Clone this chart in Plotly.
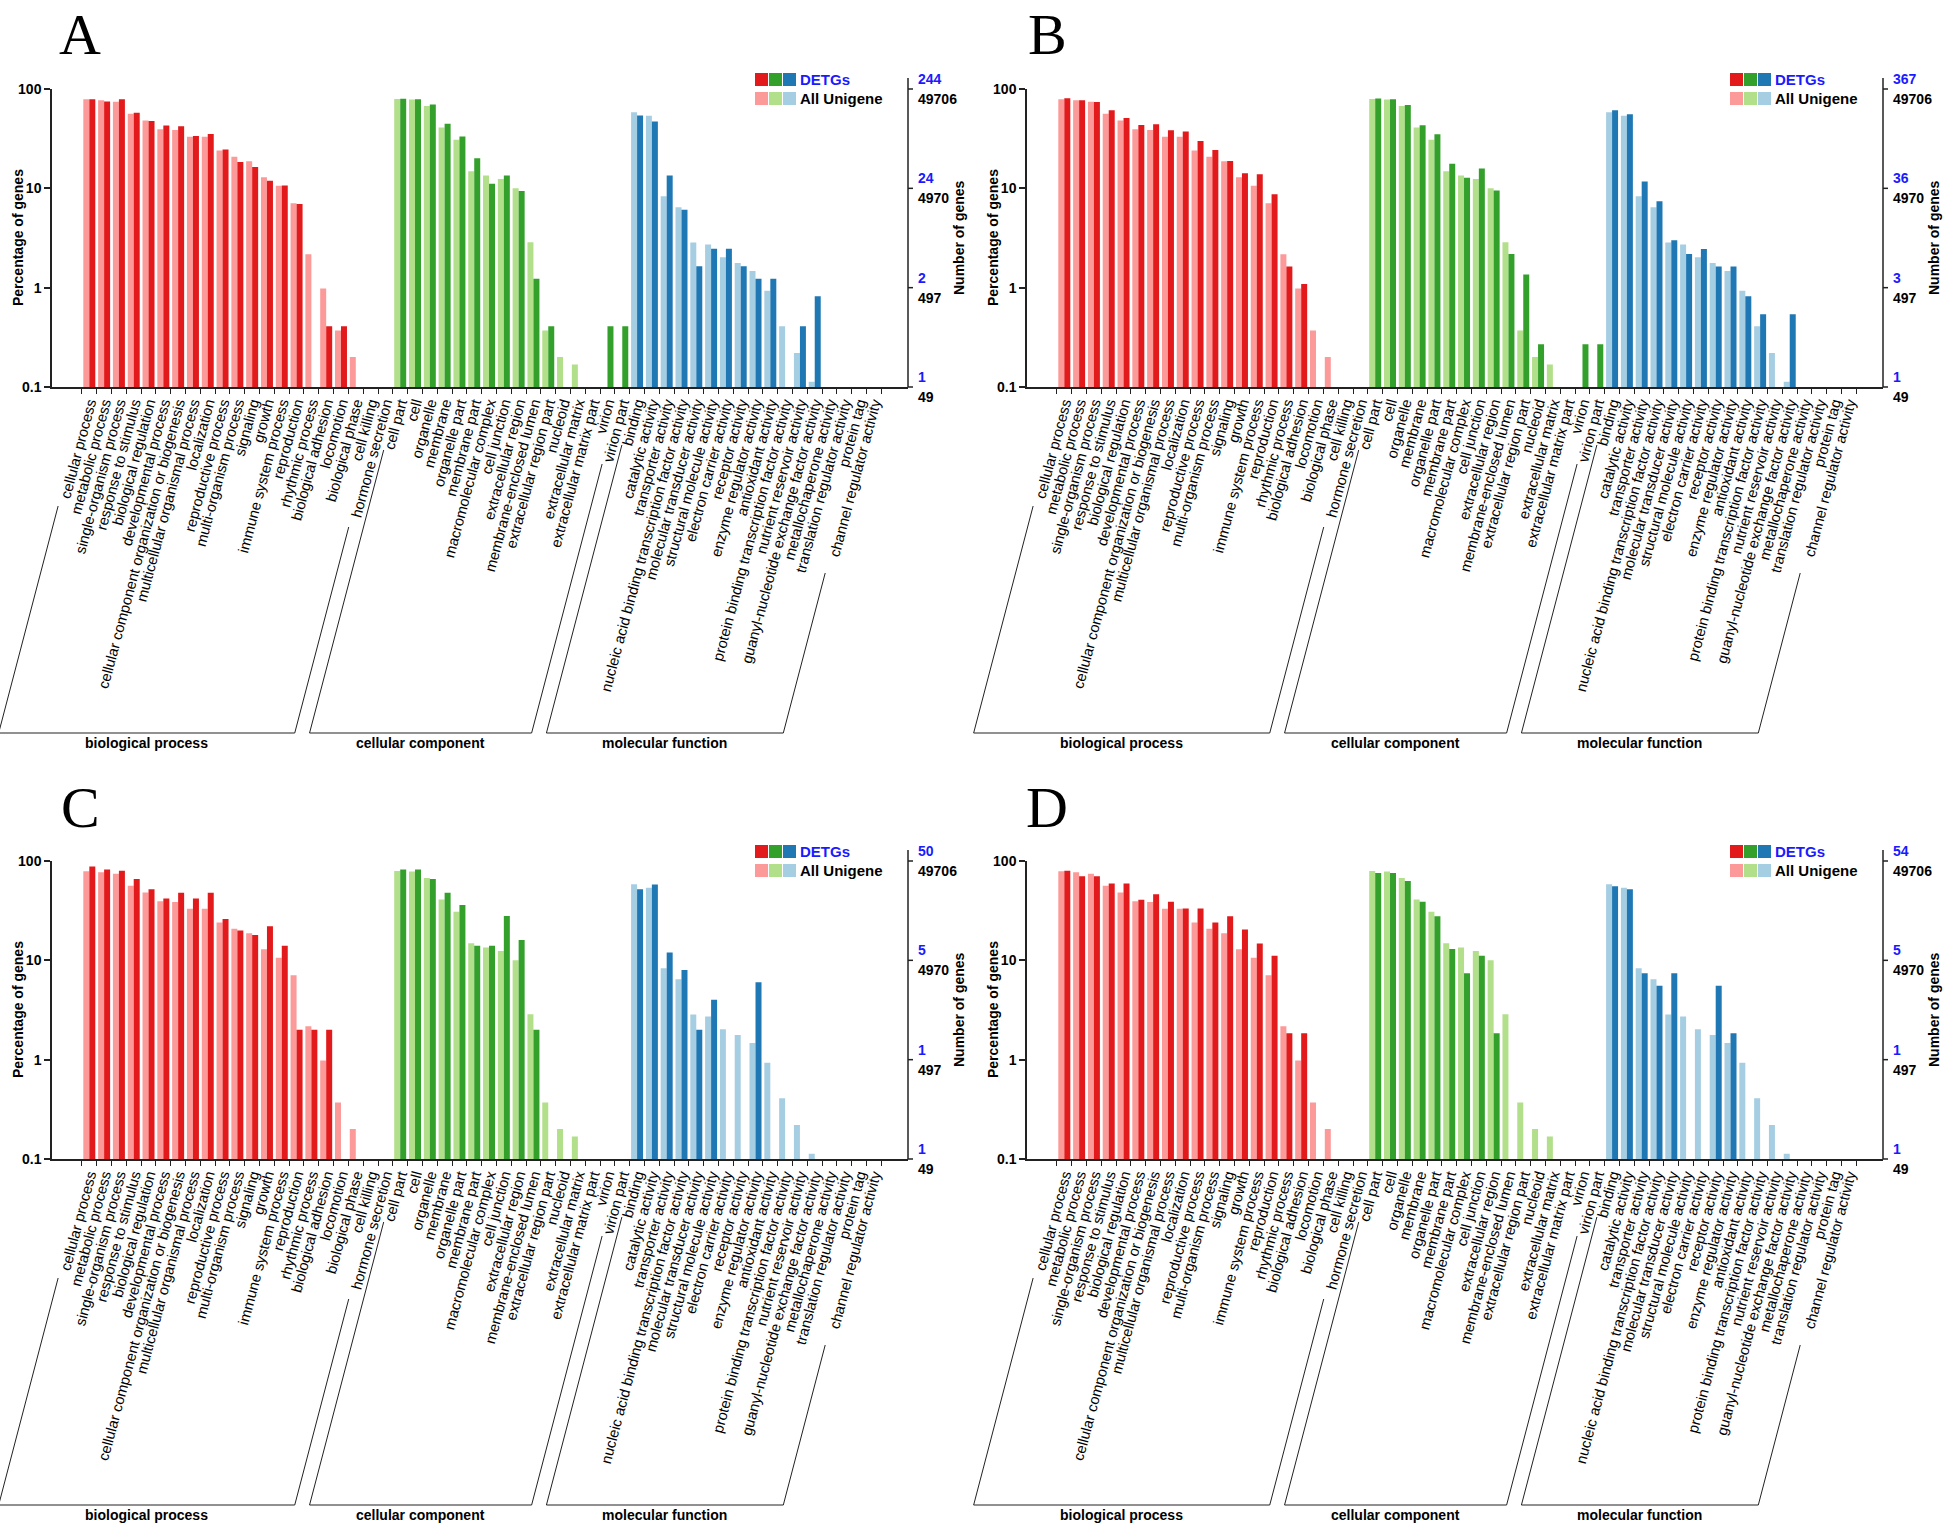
import math
import plotly.graph_objects as go

W, H = 1946, 1526

# ---------------- data ----------------
BP = ["cellular process", "metabolic process", "single-organism process", "response to stimulus",
      "biological regulation", "developmental process", "cellular component organization or biogenesis",
      "multicellular organismal process", "localization", "reproductive process", "multi-organism process",
      "signaling", "growth", "immune system process", "reproduction", "rhythmic process",
      "biological adhesion", "locomotion", "biological phase", "cell killing", "hormone secretion"]
CC = ["cell part", "cell", "organelle", "membrane", "organelle part", "membrane part",
      "macromolecular complex", "cell junction", "extracellular region", "membrane-enclosed lumen",
      "extracellular region part", "nucleoid", "extracellular matrix", "extracellular matrix part",
      "virion", "virion part"]
MF = ["binding", "catalytic activity", "transporter activity",
      "nucleic acid binding transcription factor activity", "molecular transducer activity",
      "structural molecule activity", "electron carrier activity", "receptor activity",
      "enzyme regulator activity", "antioxidant activity", "protein binding transcription factor activity",
      "nutrient reservoir activity", "guanyl-nucleotide exchange factor activity",
      "metallochaperone activity", "translation regulator activity", "protein tag",
      "channel regulator activity"]
GROUP_NAMES = ["biological process", "cellular component", "molecular function"]

# All Unigene (percentage of genes)
ALL_BP = [78.7, 77.2, 74.5, 56.2, 48.2, 39.4, 38.6, 33.0, 33.0, 24.0, 20.8, 18.7, 12.9, 10.6, 7.07,
          2.17, 0.98, 0.37, 0.20, None, None]
ALL_CC = [79.3, 78.2, 67.5, 41.0, 30.8, 14.9, 13.5, 12.4, 10.0, 2.87, 0.37, 0.20, 0.168, None, None, None]
ALL_MF = [58.3, 53.8, 8.3, 6.45, 2.85, 2.72, 2.02, 1.77, 1.47, 0.93, 0.41, 0.22, 0.113,
          None, None, None, None]

# DETGs (percentage of genes), panels A-D
A_BP = [78.7, 75.0, 78.7, 57.8, 47.5, 43.0, 42.2, 33.6, 35.2, 24.6, 18.4, 16.4, 11.9, 10.7, 6.97,
        None, 0.41, 0.41, None, None, None]
A_CC = [80.0, 78.7, 70.0, 44.7, 33.2, 20.1, 11.1, 13.5, 9.4, 1.23, 0.41, None, None, None, 0.41, 0.41]
A_MF = [54.1, 47.1, 13.5, 6.1, 1.64, 2.46, 2.46, 1.64, 1.23, 1.23, None, 0.41, 0.82,
        None, None, None, None]

B_BP = [80.5, 77.1, 74.1, 61.0, 51.2, 43.3, 44.1, 38.4, 37.3, 30.0, 24.3, 18.8, 14.2, 13.9, 8.7,
        1.63, 1.09, None, None, None, None]
B_CC = [80.4, 79.0, 69.2, 43.1, 35.1, 17.7, 12.8, 15.8, 9.5, 2.18, 1.36, 0.27, None, None, 0.27, 0.27]
B_MF = [61.0, 55.6, 11.7, 7.4, 3.0, 2.18, 2.45, 1.63, 1.63, 0.82, 0.54, None, 0.54,
        None, None, None, None]

C_BP = [88, 82, 80, 66, 52, 42, 48, 42, 48, 26, 20, 18, 22, 14, 2, 2, 2, None, None, None, None]
C_CC = [82, 82, 66, 48, 36, 14, 14, 28, 16, 2, None, None, None, None, None, None]
C_MF = [52, 58, 12, 8, 2, 4, None, None, 6, None, None, None, None, None, None, None, None]

D_BP = [79.6, 70.4, 70.4, 59.3, 59.3, 40.7, 46.3, 38.9, 33.3, 33.3, 24.1, 27.8, 20.4, 14.8, 11.1,
        1.85, 1.85, None, None, None, None]
D_CC = [75.9, 75.9, 63.0, 38.9, 27.8, 13.0, 7.4, 11.1, 1.85, None, None, None, None, None, None, None]
D_MF = [55.6, 51.9, 7.4, 5.56, 7.4, None, None, 5.56, 1.85, None, None, None, None,
        None, None, None, None]

PANELS = ["A", "B", "C", "D"]
DETG = {"A": (A_BP, A_CC, A_MF), "B": (B_BP, B_CC, B_MF),
        "C": (C_BP, C_CC, C_MF), "D": (D_BP, D_CC, D_MF)}
RIGHT_BLUE = {"A": ["244", "24", "2", "1"], "B": ["367", "36", "3", "1"],
              "C": ["50", "5", "1", "1"], "D": ["54", "5", "1", "1"]}
RIGHT_BLACK = ["49706", "4970", "497", "49"]
LEFT_TICKS = [100, 10, 1, 0.1]
LEFT_TICKTEXT = ["100", "10", "1", "0.1"]

# ---------------- style ----------------
DARK = ["#E31A1C", "#33A02C", "#1F78B4"]
LIGHT = ["#FB9A99", "#B2DF8A", "#A6CEE3"]
AXC = "#222222"
BLUE = "#1a1aff"
FONT = "Liberation Sans, Arial, Helvetica, sans-serif"
SERIF = "Liberation Serif, Times New Roman, serif"

PLOT_L, PLOT_R = 52, 908
PLOT_T, PLOT_B = 89, 387
XMIN, XMAX = -2.52, 55.3
OFFS = {"A": (0, 0), "B": (975, 0), "C": (0, 772), "D": (975, 772)}
TICKANGLE = -75
SLOPE = 0.262   # horizontal shift per vertical pixel of the bracket sides
BR_BOTTOM = 346  # bracket bottom below x axis


def px(x):
    return x / W


def py(y):
    return 1 - y / H


def cat_px(i, dx):
    return PLOT_L + dx + (i - XMIN) / (XMAX - XMIN) * (PLOT_R - PLOT_L)


def val_py(v, dy):
    f = (math.log10(v) + 1) / 3
    return PLOT_B + dy - f * (PLOT_B - PLOT_T)


CATS = BP + CC + MF
IDX = list(range(len(CATS)))
GROUP_OF = [0] * len(BP) + [1] * len(CC) + [2] * len(MF)
GROUP_RANGES = [(0, len(BP) - 1), (len(BP), len(BP) + len(CC) - 1),
                (len(BP) + len(CC), len(CATS) - 1)]
BR_TOPS = [(119, 140), (63, 77), (58, 186)]

ALL_VALS = ALL_BP + ALL_CC + ALL_MF

fig = go.Figure()
shapes = []
annotations = []

for k, p in enumerate(PANELS):
    dx, dy = OFFS[p]
    sfx = "" if k == 0 else str(k + 1)
    xa, ya = "x" + sfx, "y" + sfx
    det_vals = DETG[p][0] + DETG[p][1] + DETG[p][2]

    fig.add_trace(go.Bar(x=IDX, y=ALL_VALS, marker_color=[LIGHT[g] for g in GROUP_OF],
                         marker_line_width=0, xaxis=xa, yaxis=ya, offsetgroup="all",
                         showlegend=False, name="All Unigene"))
    fig.add_trace(go.Bar(x=IDX, y=det_vals, marker_color=[DARK[g] for g in GROUP_OF],
                         marker_line_width=0, xaxis=xa, yaxis=ya, offsetgroup="detg",
                         showlegend=False, name="DETGs"))

    fig.layout["xaxis" + sfx] = dict(
        domain=[px(PLOT_L + dx), px(PLOT_R + dx)], range=[XMIN, XMAX], anchor=ya,
        tickmode="array", tickvals=IDX, ticktext=CATS, tickangle=TICKANGLE,
        tickfont=dict(family=FONT, size=14.7, color="black"),
        showline=True, linecolor=AXC, linewidth=1.5, ticks="", showgrid=False, zeroline=False,
        minor=dict(tickmode="array", tickvals=[i - 0.5 for i in range(len(CATS) + 1)],
                   ticks="outside", ticklen=5, tickcolor=AXC, tickwidth=1, showgrid=False),
        fixedrange=True)
    fig.layout["yaxis" + sfx] = dict(
        domain=[py(PLOT_B + dy), py(PLOT_T + dy)], type="log", range=[-1, 2], anchor=xa,
        tickmode="array", tickvals=LEFT_TICKS, ticktext=LEFT_TICKTEXT,
        tickfont=dict(family=FONT, size=14, color="black", weight="bold"),
        ticks="outside", ticklen=6, tickwidth=1.5, tickcolor=AXC,
        showline=True, linecolor=AXC, linewidth=1.5, showgrid=False, zeroline=False,
        fixedrange=True)

    annotations.append(dict(x=px(18 + dx), y=py((PLOT_T + PLOT_B) / 2 + dy), xref="paper", yref="paper",
                            text="<b>Percentage of genes</b>", textangle=-90, showarrow=False,
                            font=dict(family=FONT, size=14, color="black"),
                            xanchor="center", yanchor="middle"))
    rx = PLOT_R + dx
    shapes.append(dict(type="line", xref="paper", yref="paper", x0=px(rx), x1=px(rx),
                       y0=py(PLOT_T - 11 + dy), y1=py(PLOT_B + dy), line=dict(color=AXC, width=1.5)))
    for j, v in enumerate(LEFT_TICKS):
        ty = val_py(v, dy)
        shapes.append(dict(type="line", xref="paper", yref="paper", x0=px(rx), x1=px(rx + 5),
                           y0=py(ty), y1=py(ty), line=dict(color=AXC, width=1.5)))
        annotations.append(dict(x=px(rx + 8), y=py(ty - 10), xref="paper", yref="paper",
                                text="<b>%s</b>" % RIGHT_BLUE[p][j], showarrow=False,
                                font=dict(family=FONT, size=14, color=BLUE),
                                xanchor="left", yanchor="middle"))
        annotations.append(dict(x=px(rx + 8), y=py(ty + 10), xref="paper", yref="paper",
                                text="<b>%s</b>" % RIGHT_BLACK[j], showarrow=False,
                                font=dict(family=FONT, size=14, color="black"),
                                xanchor="left", yanchor="middle"))
    annotations.append(dict(x=px(959 + dx), y=py((PLOT_T + PLOT_B) / 2 + dy), xref="paper", yref="paper",
                            text="<b>Number of genes</b>", textangle=-90, showarrow=False,
                            font=dict(family=FONT, size=14, color="black"),
                            xanchor="center", yanchor="middle"))

    for r, (cols, label, col) in enumerate([(DARK, "DETGs", BLUE), (LIGHT, "All Unigene", "black")]):
        y0 = 73 + r * 19 + dy
        for c, colr in enumerate(cols):
            x0 = 755 + c * 14 + dx
            shapes.append(dict(type="rect", xref="paper", yref="paper", x0=px(x0), x1=px(x0 + 13),
                               y0=py(y0 + 13), y1=py(y0), fillcolor=colr, line=dict(width=0)))
        annotations.append(dict(x=px(798 + dx), y=py(y0 + 6.5), xref="paper", yref="paper",
                                text="<b>%s</b>" % label, showarrow=False,
                                font=dict(family=FONT, size=15, color=col),
                                xanchor="left", yanchor="middle"))

    annotations.append(dict(x=px(80 + dx - (8 if k % 2 else 0)), y=py(35 + dy), xref="paper", yref="paper",
                            text=p, showarrow=False, font=dict(family=SERIF, size=58, color="black"),
                            xanchor="center", yanchor="middle"))

    base = PLOT_B + dy
    for g, (i0, i1) in enumerate(GROUP_RANGES):
        t0, t1 = BR_TOPS[g]
        cx0, cx1 = cat_px(i0, dx), cat_px(i1, dx)
        bl = cx0 - BR_BOTTOM * SLOPE
        br = cx1 - BR_BOTTOM * SLOPE
        shapes.append(dict(type="line", xref="paper", yref="paper",
                           x0=px(cx0 - t0 * SLOPE), y0=py(base + t0), x1=px(bl), y1=py(base + BR_BOTTOM),
                           line=dict(color=AXC, width=1)))
        shapes.append(dict(type="line", xref="paper", yref="paper",
                           x0=px(bl), y0=py(base + BR_BOTTOM), x1=px(br), y1=py(base + BR_BOTTOM),
                           line=dict(color=AXC, width=1)))
        shapes.append(dict(type="line", xref="paper", yref="paper",
                           x0=px(cx1 - t1 * SLOPE), y0=py(base + t1), x1=px(br), y1=py(base + BR_BOTTOM),
                           line=dict(color=AXC, width=1)))
        annotations.append(dict(x=px((bl + br) / 2), y=py(base + BR_BOTTOM + 10), xref="paper", yref="paper",
                                text="<b>%s</b>" % GROUP_NAMES[g], showarrow=False,
                                font=dict(family=FONT, size=14, color="black"),
                                xanchor="center", yanchor="middle"))

fig.update_layout(
    width=W, height=H, margin=dict(l=0, r=0, t=0, b=0, autoexpand=False),
    paper_bgcolor="white", plot_bgcolor="white",
    barmode="group", bargap=0.19, bargroupgap=0,
    shapes=shapes, annotations=annotations, showlegend=False,
    font=dict(family=FONT),
)

fig.write_html("out.html", config={"displayModeBar": False},
               post_script="document.body.style.margin='0px';"
                           "document.body.style.padding='0px';"
                           "document.body.style.overflow='hidden';"
                           "document.documentElement.style.overflow='hidden';")
